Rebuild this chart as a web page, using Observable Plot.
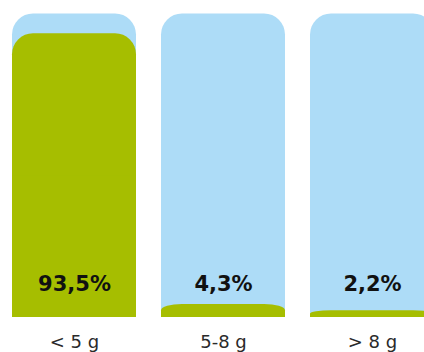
<!DOCTYPE html>
<html>
<head>
<meta charset="utf-8">
<script src="https://cdn.jsdelivr.net/npm/d3@7"></script>
<script src="https://cdn.jsdelivr.net/npm/@observablehq/plot@0.6"></script>
<style>
html, body { margin: 0; padding: 0; background: #fff; overflow: hidden; }
</style>
</head>
<body>
<div id="chart"></div>
<script>
const categories = ["< 5 g", "5-8 g", "> 8 g"];
const values = [93.5, 4.3, 2.2];
const labels = ["93,5%", "4,3%", "2,2%"];
const total = 100;

const data = categories.map((c, i) => ({cat: c, value: values[i], label: labels[i], total}));

const blue = "#ADDCF7";
const green = "#A6BE00";

const chart = Plot.plot({
  width: 424,
  height: 352,
  margin: 0,
  style: {background: "#fff", fontFamily: "DejaVu Sans, sans-serif"},
  x: {domain: categories, range: [12, 434], paddingInner: 0.168, paddingOuter: 0, axis: null},
  y: {domain: [0, 100], range: [317, 13.5], axis: null},
  marks: [
    Plot.barY(data, {x: "cat", y: "total", fill: blue, rx: 21}),
    Plot.barY(data, {x: "cat", y: d => d.total / 2, fill: blue}),
    Plot.barY(data, {x: "cat", y: "value", fill: green, rx: 21}),
    Plot.barY(data, {x: "cat", y: d => d.value / 2, fill: green}),
    Plot.text(data, {x: "cat", y: 0, text: "label", dy: -33, fontSize: 21, fontWeight: "bold", fill: "#111"}),
    Plot.text(data, {x: "cat", y: 0, text: "cat", dy: 25, fontSize: 18, fill: "#2a2a2a"})
  ]
});
document.getElementById("chart").appendChild(chart);
</script>
</body>
</html>
